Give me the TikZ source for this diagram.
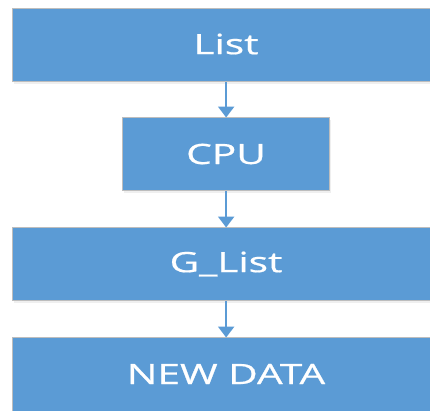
\documentclass[tikz,border=0pt]{standalone}
\usepackage{fontspec}
\setmainfont{Open Sans}
\newfontfamily\labelfont{Open Sans}[FakeBold=0.6]
\usetikzlibrary{arrows.meta,shadows}
\definecolor{boxblue}{HTML}{5B9BD5}
\definecolor{boxedge}{HTML}{BDBDBD}
\newcommand{\boxlabel}[1]{\scalebox{1.45}[1]{\labelfont\fontsize{28}{30}\selectfont #1}}
\tikzset{
  flowbox/.style={rectangle, fill=boxblue, draw=boxedge, line width=1.3pt,
    text=white, inner sep=0pt,
    drop shadow={opacity=0.12, shadow xshift=1.5pt, shadow yshift=-2.5pt}},
  flowarrow/.style={draw=boxblue, line width=2.4pt,
    -{Triangle[width=16pt,length=11pt]}, shorten >=-0.5pt}
}
\begin{document}
\begin{tikzpicture}[x=1pt,y=-1pt]
  \useasboundingbox (0,0) rectangle (430,410);
  \clip (0,0) rectangle (430,410);
  \fill[white] (0,0) rectangle (430,410);
  % wide boxes run past the right edge
  \node[flowbox, minimum width=432pt, minimum height=73pt, anchor=north west] (list) at (12,8) {};
  \node[flowbox, minimum width=207pt, minimum height=73pt, anchor=north west] (cpu) at (122,117) {};
  \node[flowbox, minimum width=432pt, minimum height=73pt, anchor=north west] (glist) at (12,227) {};
  \node[flowbox, minimum width=432pt, minimum height=80pt, anchor=north west] (newdata) at (12,337) {};
  % labels, centred on the visible part of each box
  \node[text=white] (tlist) at (226,44) {\boxlabel{List}};
  \node[text=white] (tcpu) at (226,154) {\boxlabel{CPU}};
  \node[text=white] (tglist) at (226,264) {\boxlabel{G\_List}};
  \node[text=white] (tnew) at (226,374) {\boxlabel{NEW DATA}};
  % connectors along the common axis through the CPU box
  \draw[flowarrow] (cpu.north |- list.south) -- (cpu.north);
  \draw[flowarrow] (cpu.south) -- (cpu.south |- glist.north);
  \draw[flowarrow] (cpu.south |- glist.south) -- (cpu.south |- newdata.north);
\end{tikzpicture}
\end{document}
